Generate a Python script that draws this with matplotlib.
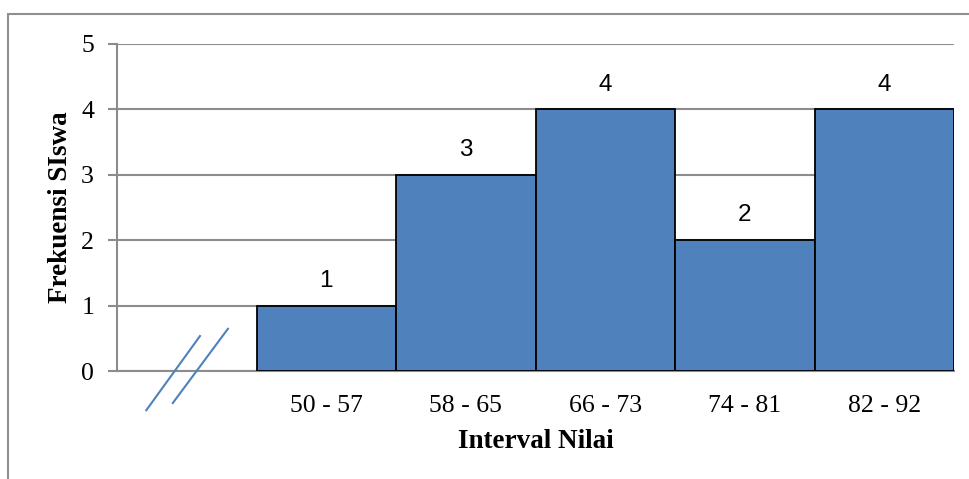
import matplotlib.pyplot as plt
from matplotlib.patches import Rectangle

# data
interval = ["50 - 57", "58 - 65", "66 - 73", "74 - 81", "82 - 92"]
frekuensi = [1, 3, 4, 2, 4]
y_ticks = [0, 1, 2, 3, 4, 5]

serif = ["Liberation Serif", "DejaVu Serif"]
sans = ["Liberation Sans", "DejaVu Sans"]
grid_col = "#8c8c8c"
bar_col = "#4f81bd"

fig = plt.figure(figsize=(9.69, 4.79), dpi=100)
ax = fig.add_axes([117 / 969, 1 - 371 / 479, (954 - 117) / 969, (371 - 44) / 479])

# empty slot at position 0 (axis break), bars from position 1
pos = list(range(1, len(interval) + 1))
bars = ax.bar(pos, frekuensi, width=1.0, color=bar_col, edgecolor="black", linewidth=1.3, zorder=3)

for b, v in zip(bars, frekuensi):
    ax.annotate(str(v), (b.get_x() + b.get_width() / 2, v), xytext=(0, 10),
                textcoords="offset points", ha="center", va="bottom",
                fontsize=17.5, family=sans)

ax.set_xlim(-0.5, len(interval) + 0.5)
ax.set_ylim(0, 5)
ax.set_yticks(y_ticks)
ax.set_yticklabels([str(t) for t in y_ticks], fontsize=18.5, family=serif)
ax.set_xticks(pos)
ax.set_xticklabels(interval, fontsize=18.5, family=serif)
ax.tick_params(axis="x", length=0, pad=17)
ax.tick_params(axis="y", length=6.5, width=1.5, color=grid_col, pad=10)

ax.yaxis.grid(True, color=grid_col, linewidth=1.5, zorder=0)
for s in ["top", "right"]:
    ax.spines[s].set_visible(False)
ax.spines["left"].set_color(grid_col)
ax.spines["left"].set_linewidth(1.5)
ax.spines["bottom"].set_color(grid_col)
ax.spines["bottom"].set_linewidth(1.5)

ax.set_xlabel("Interval Nilai", fontsize=19.5, fontweight="bold", family=serif, labelpad=9)
ax.set_ylabel("Frekuensi SIswa", fontsize=19.5, fontweight="bold", family=serif, labelpad=6)

# axis break marks
ax.plot([-0.29, 0.095], [-0.6, 0.535], color=bar_col, lw=1.5, clip_on=False, zorder=4)
ax.plot([-0.1, 0.295], [-0.49, 0.645], color=bar_col, lw=1.5, clip_on=False, zorder=4)

# outer chart frame
fig.patches.append(Rectangle((8 / 969, -0.1), 1.2, 1.1 - 14 / 479, transform=fig.transFigure,
                             fill=False, edgecolor="#909090", linewidth=1.5))

fig.savefig("out.png", dpi=100)
